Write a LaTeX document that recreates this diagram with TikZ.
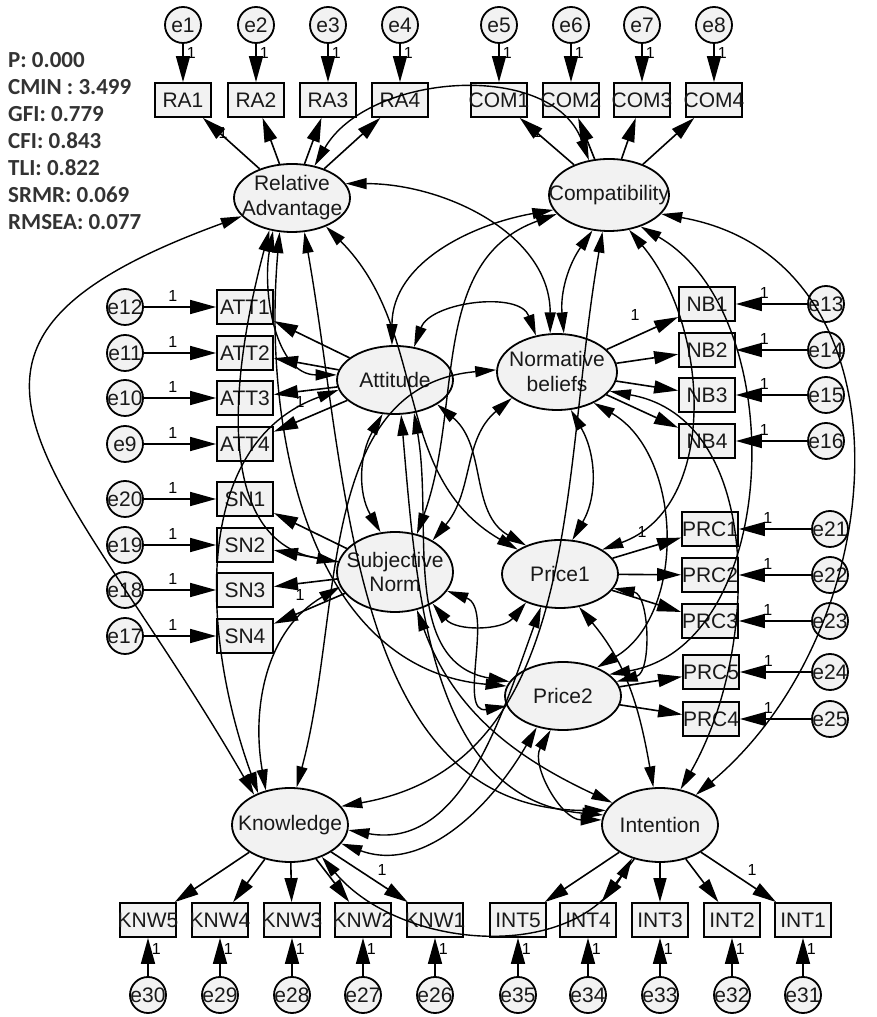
\documentclass[tikz,border=0pt]{standalone}
\usepackage{fontspec}
\setmainfont{Liberation Sans}
\newfontfamily\statfont{Carlito}
\usetikzlibrary{arrows.meta,shapes.geometric}
\begin{document}
\begin{tikzpicture}[x=1pt,y=1pt,
  every node/.style={inner sep=0pt},
  txt/.style={font=\fontsize{21}{25}\selectfont, text=black!90},
  obs/.style={rectangle, draw, line width=1.8pt, fill=gray!10, minimum width=56pt, minimum height=34pt, label={[txt]center:#1}},
  err/.style={circle, draw, line width=1.8pt, fill=gray!10, minimum size=36pt, label={[txt]center:#1}},
  lat/.style={ellipse, draw, line width=1.8pt, fill=gray!10, minimum width=116pt, minimum height=68pt},
  one/.style={font=\fontsize{16}{18}\selectfont},
  ea/.style={line width=1.6pt, -{Triangle[length=26pt,width=14pt]}},
  la/.style={line width=1.6pt, -{Triangle[length=24pt,width=13pt]}},
  cov/.style={line width=1.4pt, {Triangle[length=21pt,width=11pt]}-{Triangle[length=21pt,width=11pt]}},
  stat/.style={font=\statfont\bfseries\fontsize{23}{26}\selectfont, text=black!80, anchor=west}
]
\useasboundingbox (0,0) rectangle (876,1017);

% fit statistics
\node[stat] (s1) at (8,957) {P: 0.000};
\node[stat] (s2) at (8,930) {CMIN : 3.499};
\node[stat] (s3) at (8,903) {GFI: 0.779};
\node[stat] (s4) at (8,876) {CFI: 0.843};
\node[stat] (s5) at (8,849) {TLI: 0.822};
\node[stat] (s6) at (8,822) {SRMR: 0.069};
\node[stat] (s7) at (8,795) {RMSEA: 0.077};

% latent variables
\node[lat] (RA) at (292,819) {};
\node[lat, minimum width=120pt, minimum height=72pt] (COM) at (609,822) {};
\node[lat] (ATT) at (395,637) {};
\node[lat, minimum width=120pt, minimum height=76pt] (NB) at (557,645) {};
\node[lat, minimum height=80pt] (SN) at (395,445) {};
\node[lat] (P1) at (560,443) {};
\node[lat] (P2) at (563,321) {};
\node[lat, minimum height=74pt] (KNW) at (290,192) {};
\node[lat, minimum height=74pt] (INT) at (660,192) {};
\node[txt, align=center] (RAt) at (RA) {Relative\\Advantage};
\node[txt] (COMt) at (COM) {Compatibility};
\node[txt] (ATTt) at (ATT) {Attitude};
\node[txt, align=center] (NBt) at (NB) {Normative\\beliefs};
\node[txt, align=center] (SNt) at (SN) {Subjective\\Norm};
\node[txt] (P1t) at (P1) {Price1};
\node[txt] (P2t) at (P2) {Price2};
\node[txt] (KNWt) at (KNW) {Knowledge};
\node[txt] (INTt) at (INT) {Intention};

% top indicators
\node[obs=RA1] (RA1) at (183,917) {};
\node[obs=RA2] (RA2) at (256,917) {};
\node[obs=RA3] (RA3) at (328,917) {};
\node[obs=RA4] (RA4) at (400,917) {};
\node[obs=COM1] (COM1) at (499,917) {};
\node[obs=COM2] (COM2) at (571,917) {};
\node[obs=COM3] (COM3) at (642,917) {};
\node[obs=COM4] (COM4) at (714,917) {};
\node[err=e1] (e1) at (183,992) {};
\node[err=e2] (e2) at (256,992) {};
\node[err=e3] (e3) at (328,992) {};
\node[err=e4] (e4) at (400,992) {};
\node[err=e5] (e5) at (499,992) {};
\node[err=e6] (e6) at (571,992) {};
\node[err=e7] (e7) at (642,992) {};
\node[err=e8] (e8) at (714,992) {};

% left indicators
\node[obs=ATT1] (ATT1) at (245,710) {};
\node[obs=ATT2] (ATT2) at (245,664) {};
\node[obs=ATT3] (ATT3) at (245,619) {};
\node[obs=ATT4] (ATT4) at (245,573) {};
\node[obs=SN1] (SN1) at (245,518) {};
\node[obs=SN2] (SN2) at (245,472) {};
\node[obs=SN3] (SN3) at (245,427) {};
\node[obs=SN4] (SN4) at (245,381) {};
\node[err=e12] (e12) at (125,710) {};
\node[err=e11] (e11) at (125,664) {};
\node[err=e10] (e10) at (125,619) {};
\node[err=e9] (e9) at (125,573) {};
\node[err=e20] (e20) at (125,518) {};
\node[err=e19] (e19) at (125,472) {};
\node[err=e18] (e18) at (125,427) {};
\node[err=e17] (e17) at (125,381) {};

% right indicators
\node[obs=NB1] (NB1) at (707,713) {};
\node[obs=NB2] (NB2) at (707,667) {};
\node[obs=NB3] (NB3) at (707,622) {};
\node[obs=NB4] (NB4) at (707,576) {};
\node[obs=PRC1] (PRC1) at (710,488) {};
\node[obs=PRC2] (PRC2) at (710,442) {};
\node[obs=PRC3] (PRC3) at (710,396) {};
\node[obs=PRC5] (PRC5) at (711,345) {};
\node[obs=PRC4] (PRC4) at (711,298) {};
\node[err=e13] (e13) at (826,713) {};
\node[err=e14] (e14) at (826,667) {};
\node[err=e15] (e15) at (826,622) {};
\node[err=e16] (e16) at (826,576) {};
\node[err=e21] (e21) at (830,488) {};
\node[err=e22] (e22) at (830,442) {};
\node[err=e23] (e23) at (830,396) {};
\node[err=e24] (e24) at (830,345) {};
\node[err=e25] (e25) at (830,298) {};

% bottom indicators
\node[obs=KNW5] (KNW5) at (148,97) {};
\node[obs=KNW4] (KNW4) at (220,97) {};
\node[obs=KNW3] (KNW3) at (292,97) {};
\node[obs=KNW2] (KNW2) at (363,97) {};
\node[obs=KNW1] (KNW1) at (435,97) {};
\node[obs=INT5] (INT5) at (518,97) {};
\node[obs=INT4] (INT4) at (588,97) {};
\node[obs=INT3] (INT3) at (660,97) {};
\node[obs=INT2] (INT2) at (732,97) {};
\node[obs=INT1] (INT1) at (803,97) {};
\node[err=e30] (e30) at (148,22) {};
\node[err=e29] (e29) at (220,22) {};
\node[err=e28] (e28) at (292,22) {};
\node[err=e27] (e27) at (363,22) {};
\node[err=e26] (e26) at (435,22) {};
\node[err=e35] (e35) at (518,22) {};
\node[err=e34] (e34) at (588,22) {};
\node[err=e33] (e33) at (660,22) {};
\node[err=e32] (e32) at (732,22) {};
\node[err=e31] (e31) at (803,22) {};

% error arrows
\foreach \e/\b in {e1/RA1,e2/RA2,e3/RA3,e4/RA4,e5/COM1,e6/COM2,e7/COM3,e8/COM4}
  \draw[ea] (\e) -- node[one,pos=0.25,right=3pt]{1} (\b);
\foreach \e/\b in {e12/ATT1,e11/ATT2,e10/ATT3,e9/ATT4,e20/SN1,e19/SN2,e18/SN3,e17/SN4}
  \draw[ea] (\e) -- node[one,pos=0.4,above=5pt]{1} (\b);
\foreach \e/\b in {e13/NB1,e14/NB2,e15/NB3,e16/NB4,e21/PRC1,e22/PRC2,e23/PRC3,e24/PRC5,e25/PRC4}
  \draw[ea] (\e) -- node[one,pos=0.6,above=5pt]{1} (\b);
\foreach \e/\b in {e30/KNW5,e29/KNW4,e28/KNW3,e27/KNW2,e26/KNW1,e35/INT5,e34/INT4,e33/INT3,e32/INT2,e31/INT1}
  \draw[ea] (\e) -- node[one,pos=0.7,right=3pt]{1} (\b);

% loadings
\foreach \b in {RA1,RA2,RA3,RA4} \draw[la] (RA) -- (\b);
\foreach \b in {COM1,COM2,COM3,COM4} \draw[la] (COM) -- (\b);
\foreach \b in {ATT1,ATT2,ATT3,ATT4} \draw[la] (ATT) -- (\b);
\foreach \b in {SN1,SN2,SN3,SN4} \draw[la] (SN) -- (\b);
\foreach \b in {NB1,NB2,NB3,NB4} \draw[la] (NB) -- (\b);
\foreach \b in {PRC1,PRC2,PRC3} \draw[la] (P1) -- (\b);
\foreach \b in {PRC5,PRC4} \draw[la] (P2) -- (\b);
\foreach \b in {KNW1,KNW2,KNW3,KNW4,KNW5} \draw[la] (KNW) -- (\b);
\foreach \b in {INT1,INT2,INT3,INT4,INT5} \draw[la] (INT) -- (\b);
\node[one] (l1) at (223,884) {1};
\node[one] (l2) at (537,885) {1};
\node[one] (l3) at (300,615) {1};
\node[one] (l4) at (300,422) {1};
\node[one] (l5) at (635,702) {1};
\node[one] (l6) at (642,485) {1};
\node[one] (l7) at (382,147) {1};
\node[one] (l8) at (752,147) {1};

% covariances
\draw[cov] (RA.55) to[out=60,in=110] (COM.120);
\draw[cov] (RA.15) to[out=0,in=90] (NB.100);
\draw[cov] (RA.-120) to[out=-100,in=180] (ATT.175);
\draw[cov] (RA.-125) to[out=-105,in=170] (SN.170);
\draw[cov] (RA.-40) to[out=-45,in=150] (P1.150);
\draw[cov] (RA.-110) to[out=-95,in=175] (P2.170);
\draw[cov] (RA.200) to[out=200,in=120,looseness=1.7] (KNW.140);
\draw[cov] (RA.-70) to[out=-80,in=180] (INT.165);
\draw[cov] (COM.195) to[out=190,in=90] (ATT.95);
\draw[cov] (COM.-115) to[out=-125,in=95] (NB.80);
\draw[cov] (COM.200) to[out=200,in=70] (SN.60);
\draw[cov] (COM.-60) to[out=-50,in=20] (P1.30);
\draw[cov] (COM.-45) to[out=-30,in=10] (P2.25);
\draw[cov] (COM.-20) to[out=-10,in=40,looseness=1.15] (INT.40);
\draw[cov] (COM.-100) to[out=-100,in=10] (KNW.20);
\draw[cov] (ATT.60) to[out=70,in=110] (NB.120);
\draw[cov] (ATT.-110) to[out=-120,in=120] (SN.110);
\draw[cov] (ATT.-30) to[out=-40,in=150] (P1.140);
\draw[cov] (ATT.-60) to[out=-80,in=170] (P2.165);
\draw[cov] (ATT.190) to[out=200,in=110] (KNW.135);
\draw[cov] (ATT.-80) to[out=-85,in=175] (INT.170);
\draw[cov] (NB.-150) to[out=-140,in=50] (SN.40);
\draw[cov] (NB.-70) to[out=-60,in=60] (P1.70);
\draw[cov] (NB.-40) to[out=-30,in=30] (P2.40);
\draw[cov] (NB.178) to[out=185,in=75] (KNW.80);
\draw[cov] (NB.-20) to[out=-10,in=60] (INT.60);
\draw[cov] (SN.-40) to[out=-50,in=-130] (P1.-140);
\draw[cov] (SN.-20) to[out=-20,in=190] (P2.190);
\draw[cov] (SN.195) to[out=210,in=100] (KNW.125);
\draw[cov] (SN.-60) to[out=-70,in=155] (INT.155);
\draw[cov] (P1.-15) to[out=-10,in=15] (P2.15);
\draw[cov] (P1.-120) to[out=-110,in=-10] (KNW.-5);
\draw[cov] (P1.-60) to[out=-50,in=100] (INT.100);
\draw[cov] (P2.-130) to[out=-120,in=-20] (KNW.-20);
\draw[cov] (P2.-110) to[out=-120,in=180] (INT.175);
\draw[cov] (KNW.-45) to[out=-50,in=-120] (INT.-130);
\end{tikzpicture}
\end{document}
